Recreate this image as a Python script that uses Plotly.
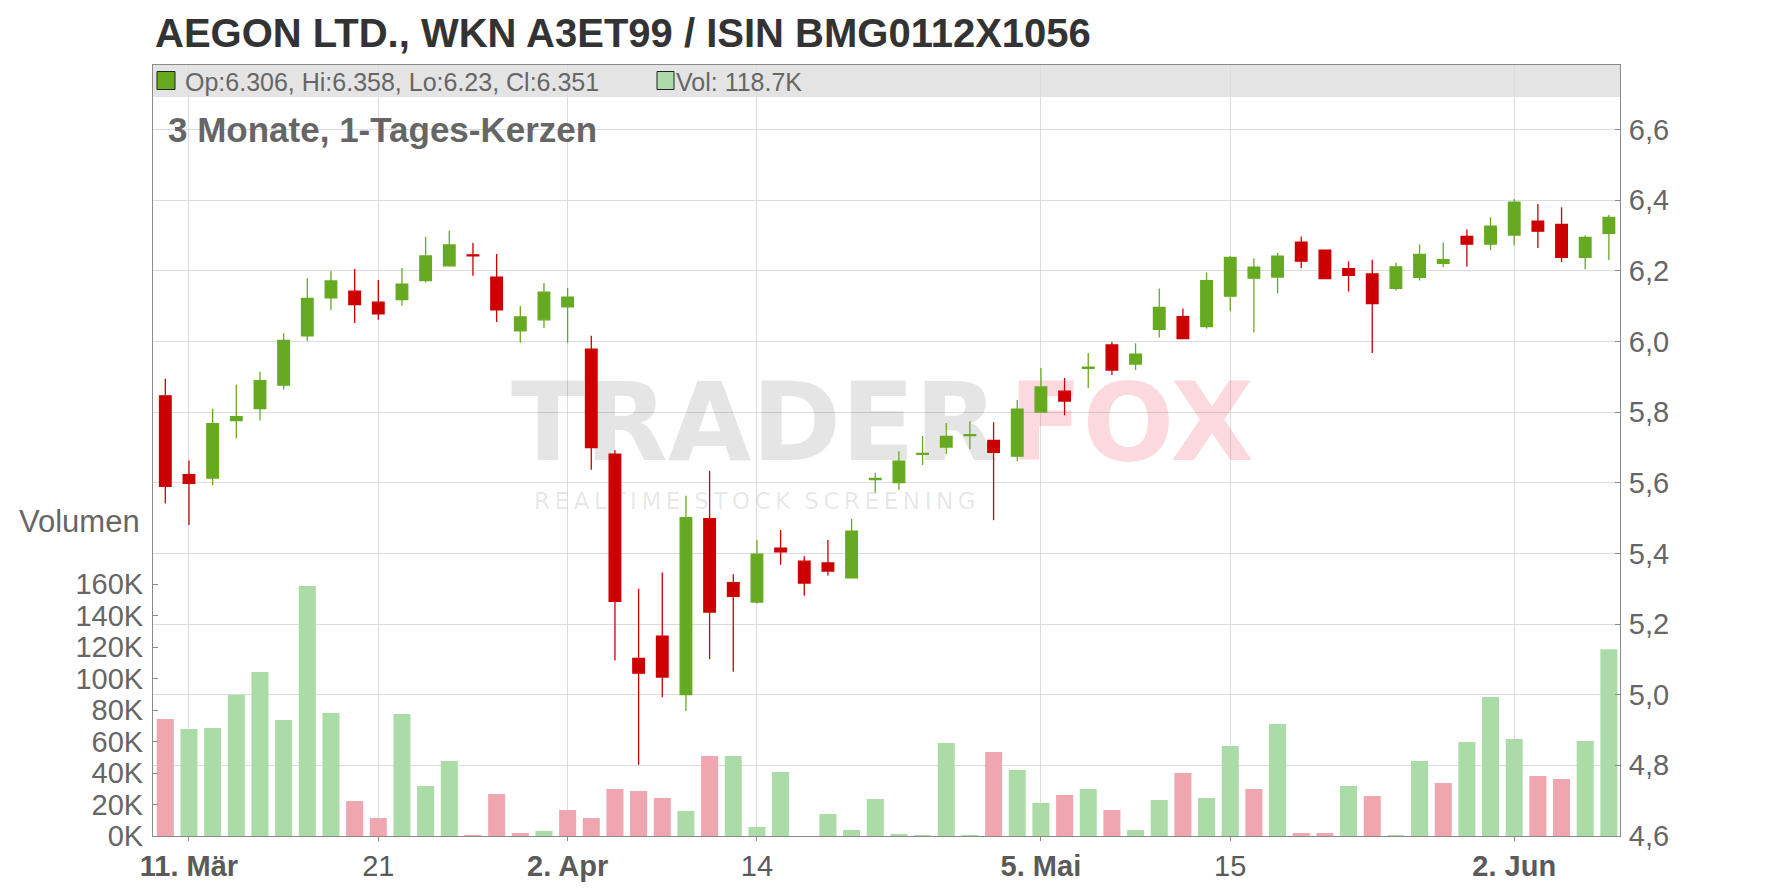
import plotly.graph_objects as go

# ---------------- data ----------------
dates = [
    "2025-03-10", "2025-03-11", "2025-03-12", "2025-03-13", "2025-03-14",
    "2025-03-17", "2025-03-18", "2025-03-19", "2025-03-20", "2025-03-21",
    "2025-03-24", "2025-03-25", "2025-03-26", "2025-03-27", "2025-03-28",
    "2025-03-31", "2025-04-01", "2025-04-02", "2025-04-03", "2025-04-04",
    "2025-04-07", "2025-04-08", "2025-04-09", "2025-04-10", "2025-04-11",
    "2025-04-14", "2025-04-15", "2025-04-16", "2025-04-17", "2025-04-22",
    "2025-04-23", "2025-04-24", "2025-04-25", "2025-04-28", "2025-04-29",
    "2025-04-30", "2025-05-02", "2025-05-05", "2025-05-06", "2025-05-07",
    "2025-05-08", "2025-05-09", "2025-05-12", "2025-05-13", "2025-05-14",
    "2025-05-15", "2025-05-16", "2025-05-19", "2025-05-20", "2025-05-21",
    "2025-05-22", "2025-05-23", "2025-05-26", "2025-05-27", "2025-05-28",
    "2025-05-29", "2025-05-30", "2025-06-02", "2025-06-03", "2025-06-04",
    "2025-06-05", "2025-06-06",
]

opens = [5.846, 5.623, 5.613, 5.776, 5.810, 5.876, 6.016, 6.123, 6.142, 6.111,
         6.118, 6.172, 6.214, 6.245, 6.182, 6.030, 6.061, 6.098, 5.978, 5.681,
         5.103, 5.166, 5.000, 5.498, 5.317, 5.262, 5.415, 5.378, 5.373, 5.331,
         5.609, 5.600, 5.680, 5.701, 5.733, 5.720, 5.675, 5.800, 5.859, 5.924,
         5.990, 5.936, 6.034, 6.070, 6.042, 6.128, 6.179, 6.182, 6.281, 6.258,
         6.206, 6.191, 6.150, 6.181, 6.221, 6.297, 6.275, 6.301, 6.340, 6.331,
         6.238, 6.306]
highs = [5.894, 5.663, 5.809, 5.877, 5.914, 6.023, 6.179, 6.199, 6.205, 6.174,
         6.208, 6.296, 6.313, 6.279, 6.247, 6.100, 6.165, 6.151, 6.016, 5.692,
         5.300, 5.346, 5.563, 5.633, 5.341, 5.438, 5.466, 5.392, 5.438, 5.497,
         5.628, 5.689, 5.732, 5.769, 5.774, 5.771, 5.834, 5.925, 5.896, 5.967,
         5.998, 5.995, 6.150, 6.093, 6.195, 6.241, 6.235, 6.250, 6.297, 6.260,
         6.226, 6.231, 6.223, 6.274, 6.280, 6.317, 6.351, 6.403, 6.389, 6.380,
         6.300, 6.358]
lows = [5.541, 5.480, 5.593, 5.726, 5.776, 5.864, 6.001, 6.089, 6.052, 6.061,
        6.101, 6.167, 6.214, 6.186, 6.055, 5.996, 6.038, 5.996, 5.637, 5.097,
        4.802, 4.993, 4.954, 5.101, 5.065, 5.258, 5.368, 5.280, 5.337, 5.331,
        5.572, 5.580, 5.650, 5.681, 5.695, 5.494, 5.661, 5.800, 5.791, 5.868,
        5.905, 5.919, 6.011, 6.008, 6.036, 6.085, 6.025, 6.136, 6.207, 6.178,
        6.141, 5.967, 6.144, 6.172, 6.210, 6.212, 6.258, 6.272, 6.264, 6.224,
        6.204, 6.23]
closes = [5.590, 5.598, 5.767, 5.787, 5.889, 6.003, 6.122, 6.171, 6.104, 6.078,
          6.162, 6.242, 6.273, 6.242, 6.089, 6.069, 6.139, 6.125, 5.699, 5.264,
          5.061, 5.050, 5.501, 5.234, 5.278, 5.398, 5.404, 5.316, 5.350, 5.463,
          5.612, 5.661, 5.683, 5.731, 5.736, 5.686, 5.808, 5.871, 5.831, 5.927,
          5.919, 5.964, 6.096, 6.008, 6.172, 6.238, 6.210, 6.241, 6.227, 6.178,
          6.187, 6.107, 6.211, 6.246, 6.231, 6.275, 6.326, 6.394, 6.312, 6.238,
          6.294, 6.351]
volumes = [74400, 68000, 68600, 89600, 104200, 73700, 158900, 78200, 22200, 11400,
           77500, 31800, 47700, 600, 26700, 1900, 3200, 16500, 11400, 29900,
           28600, 24200, 15900, 50800, 50800, 5700, 40700, 0, 14000, 3800,
           23500, 1300, 600, 59100, 600, 53400, 41900, 21000, 26100, 29900,
           16500, 3800, 22900, 40000, 24200, 57200, 29900, 71200, 1900, 1900,
           31800, 25400, 600, 47700, 33700, 59700, 88300, 61600, 38100, 36200,
           60400, 118700]

tick_dates = ["2025-03-11", "2025-03-21", "2025-04-02", "2025-04-14",
              "2025-05-05", "2025-05-15", "2025-06-02"]
tick_labels = ["<b>11. Mär</b>", "21", "<b>2. Apr</b>", "14",
               "<b>5. Mai</b>", "15", "<b>2. Jun</b>"]
price_ticks = [4.6, 4.8, 5.0, 5.2, 5.4, 5.6, 5.8, 6.0, 6.2, 6.4, 6.6]
vol_ticks = [0, 20000, 40000, 60000, 80000, 100000, 120000, 140000, 160000]
vol_tick_labels = ["0K", "20K", "40K", "60K", "80K", "100K", "120K", "140K", "160K"]

title_text = "AEGON LTD., WKN A3ET99 / ISIN BMG0112X1056"
subtitle_text = "3 Monate, 1-Tages-Kerzen"

# ---------------- styling ----------------
OFF = 8                      # page body margin of the html page
W, H = 1776 - OFF, 888 - OFF
L, T = 153 - OFF, 65 - OFF   # plot area: page x 153..1620, page y 65..836
R = W - (1620 - OFF)
B = H - (836 - OFF)
PW, PH = W - L - R, H - T - B
FONT = "Liberation Sans, Arial, sans-serif"
GREEN, RED = "#66aa22", "#cc0000"
VGREEN, VRED = "#abdca8", "#efa6ae"
GRID = "#dcdcdc"
AXIS = "#8a8a8a"


def px_x(x):
    """page pixel x -> paper fraction"""
    return (x - OFF - L) / PW


def px_y(y):
    """page pixel y -> paper fraction"""
    return (H - B - (y - OFF)) / PH


vol_colors = []
for i, c in enumerate(closes):
    ref = closes[i - 1] if i > 0 else opens[i]
    vol_colors.append(VGREEN if c >= ref else VRED)

legend_ohlc = f"Op:{opens[-1]:g}, Hi:{highs[-1]:g}, Lo:{lows[-1]:g}, Cl:{closes[-1]:g}"
legend_vol = f"Vol: {volumes[-1] / 1000:.1f}K"

fig = go.Figure()

# watermark logo (bottom-most subplot, beneath the chart marks)
logo = ("<b><span style='color:rgba(0,0,0,0.10)'>TRADER\u200a</span>"
        "<span style='color:rgba(230,30,60,0.17)'>FOX</span></b>")
fig.add_trace(go.Scatter(
    x=[px_x(511)], y=[px_y(433)], mode="text",
    text=[logo], textposition="middle right",
    textfont=dict(size=108, family="DejaVu Sans, sans-serif", color="#e4e4e4"),
    hoverinfo="skip", showlegend=False, xaxis="x", yaxis="y"))
tagline = ("\u00a0\u00a0\u00a0" +
           "\u2009".join(list("REALTIME")) + "\u2009\u2009\u2009" +
           "\u2009".join(list("STOCK")) + "\u2009\u2009\u2009" +
           "\u2009".join(list("SCREENING")))
fig.add_trace(go.Scatter(
    x=[px_x(512)], y=[px_y(503)], mode="text",
    text=[tagline], textposition="middle right",
    textfont=dict(size=23, family="DejaVu Sans, sans-serif", color="rgba(0,0,0,0.10)"),
    hoverinfo="skip", showlegend=False, xaxis="x", yaxis="y"))

# volume
fig.add_trace(go.Bar(
    x=dates, y=volumes, marker=dict(color=vol_colors, line=dict(width=0)),
    width=0.72, xaxis="x2", yaxis="y2", hoverinfo="skip", showlegend=False))

# candles
fig.add_trace(go.Candlestick(
    x=dates, open=opens, high=highs, low=lows, close=closes,
    increasing=dict(line=dict(color=GREEN, width=1.3), fillcolor=GREEN),
    decreasing=dict(line=dict(color=RED, width=1.3), fillcolor=RED),
    whiskerwidth=0, xaxis="x2", yaxis="y3", hoverinfo="skip", showlegend=False))

price_top = 4.6 + PH / 353.3
vol_top = PH / 31.46 * 20000

fig.update_layout(
    width=W, height=H,
    margin=dict(l=L, r=R, t=T, b=B, pad=0, autoexpand=False),
    paper_bgcolor="white", plot_bgcolor="white",
    separators=",.",
    hovermode=False,
    showlegend=False,
    boxgap=0.3,
    font=dict(family=FONT, color="#666666"),
    xaxis=dict(visible=False, range=[0, 1], domain=[0, 1], fixedrange=True,
               automargin=False),
    yaxis=dict(visible=False, range=[0, 1], domain=[0, 1], fixedrange=True,
               automargin=False),
    xaxis2=dict(
        overlaying="x", anchor="y", type="category", automargin=False,
        categoryorder="array", categoryarray=dates,
        range=[-0.52, 61.47],
        tickmode="array", tickvals=tick_dates, ticktext=tick_labels,
        showgrid=True, gridcolor=GRID, gridwidth=1,
        showline=True, linecolor=AXIS, linewidth=1, mirror=True,
        ticks="outside", ticklen=4, tickcolor=AXIS,
        tickfont=dict(size=29, color="#5a5a5a", family=FONT),
        rangeslider=dict(visible=False), zeroline=False,
    ),
    yaxis2=dict(
        overlaying="y", anchor="x", side="left", automargin=False,
        range=[0, vol_top],
        tickmode="array", tickvals=vol_ticks, ticktext=vol_tick_labels,
        showgrid=False, zeroline=False,
        showline=True, linecolor=AXIS, linewidth=1,
        ticks="inside", ticklen=5, tickcolor=AXIS, ticklabelstandoff=3,
        tickfont=dict(size=29, color="#666666", family=FONT),
    ),
    yaxis3=dict(
        overlaying="y", anchor="x", side="right", automargin=False,
        range=[4.6, price_top],
        tickmode="array", tickvals=price_ticks, tickformat=".1f",
        showgrid=True, gridcolor=GRID, gridwidth=1, zeroline=False,
        showline=True, linecolor=AXIS, linewidth=1,
        ticks="inside", ticklen=5, tickcolor=AXIS, ticklabelstandoff=2,
        tickfont=dict(size=29, color="#666666", family=FONT),
    ),
    shapes=[
        dict(type="rect", xref="paper", yref="paper", layer="below",
             x0=0, x1=1, y0=px_y(97), y1=1,
             fillcolor="#e4e4e4", line=dict(width=0)),
        dict(type="rect", xref="paper", yref="paper", layer="above",
             x0=px_x(157), x1=px_x(175), y0=px_y(89.5), y1=px_y(71.5),
             fillcolor=GREEN, line=dict(color="#222222", width=1)),
        dict(type="rect", xref="paper", yref="paper", layer="above",
             x0=px_x(657), x1=px_x(674), y0=px_y(89.5), y1=px_y(71.5),
             fillcolor=VGREEN, line=dict(color="#222222", width=1)),
    ],
    annotations=[
        dict(text=f"<b>{title_text}</b>", xref="paper", yref="paper",
             x=0, y=px_y(33), xanchor="left", yanchor="middle", showarrow=False,
             font=dict(size=40, color="#333333", family=FONT)),
        dict(text=f"<b>{subtitle_text}</b>", xref="paper", yref="paper",
             x=px_x(166), y=px_y(129), xanchor="left", yanchor="middle", showarrow=False,
             font=dict(size=35, color="#666666", family=FONT)),
        dict(text=legend_ohlc, xref="paper", yref="paper",
             x=px_x(183), y=px_y(81.5), xanchor="left", yanchor="middle", showarrow=False,
             font=dict(size=25, color="#666666", family=FONT)),
        dict(text=legend_vol, xref="paper", yref="paper",
             x=px_x(674), y=px_y(81.5), xanchor="left", yanchor="middle", showarrow=False,
             font=dict(size=25, color="#666666", family=FONT)),
        dict(text="Volumen", xref="paper", yref="paper",
             x=px_x(17), y=px_y(521), xanchor="left", yanchor="middle", showarrow=False,
             font=dict(size=31, color="#666666", family=FONT)),
    ],
)

fig.write_html("out.html")
